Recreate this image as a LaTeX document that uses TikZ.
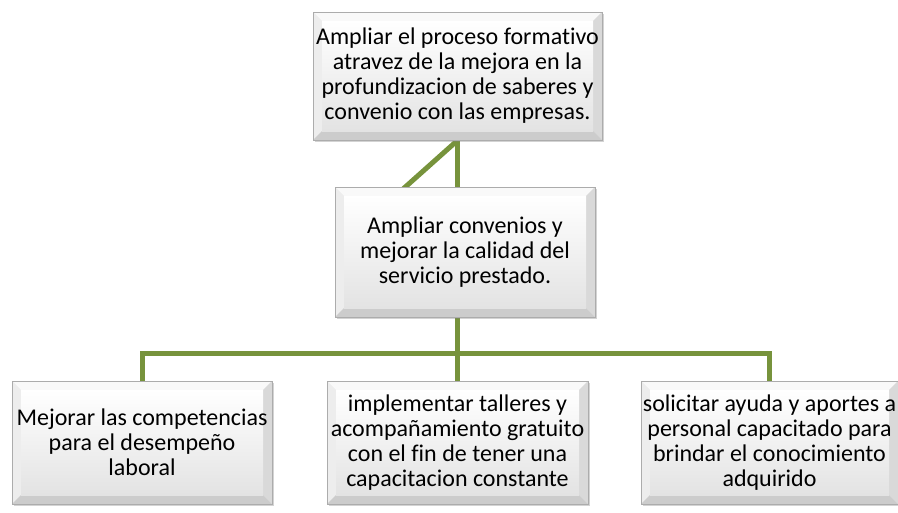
\documentclass[tikz,border=0pt]{standalone}
\usepackage{fontspec}
\setmainfont{Carlito}[Ligatures=NoCommon]
\usetikzlibrary{backgrounds,shadows}
\definecolor{conn}{HTML}{77933C}
\newcommand\bevelpic{%
 \coordinate (bSW) at (path picture bounding box.south west);
 \coordinate (bNE) at (path picture bounding box.north east);
 \coordinate (bNW) at (path picture bounding box.north west);
 \coordinate (bSE) at (path picture bounding box.south east);
 \coordinate (iSW) at ([shift={(9pt,9pt)}]bSW);
 \coordinate (iNE) at ([shift={(-9pt,-9pt)}]bNE);
 \coordinate (iNW) at ([shift={(9pt,-9pt)}]bNW);
 \coordinate (iSE) at ([shift={(-9pt,9pt)}]bSE);
 \fill[gray!5] (bNW) -- (bNE) -- (iNE) -- (iNW) -- cycle;
 \fill[gray!14] (bNW) -- (iNW) -- (iSW) -- (bSW) -- cycle;
 \fill[gray!30] (bNE) -- (bSE) -- (iSE) -- (iNE) -- cycle;
 \fill[gray!40] (bSW) -- (iSW) -- (iSE) -- (bSE) -- cycle;
 \shade[top color=white, bottom color=gray!22] (iSW) rectangle (iNE);
}
\tikzset{
 bevelbox/.style={draw=gray!65, line width=0.8pt, fill=gray!20, inner sep=0pt,
   align=center, font=\fontsize{24pt}{25pt}\selectfont,
   path picture={\bevelpic},
   drop shadow={opacity=0.35, shadow xshift=2pt, shadow yshift=-2pt}},
 link/.style={draw=conn, line width=5pt}
}
\begin{document}
\begin{tikzpicture}[x=1pt,y=-1pt]
\useasboundingbox (0,0) rectangle (898,512);
\node[bevelbox, minimum width=289pt, minimum height=128pt] (top) at (457.5,76)
  {Ampliar el proceso formativo\\atravez de la mejora en la\\profundizacion de saberes y\\convenio con las empresas.};
\node[bevelbox, minimum width=260pt, minimum height=130pt] (mid) at (465,252)
  {Ampliar convenios y\\mejorar la calidad del\\servicio prestado.};
\node[bevelbox, minimum width=260pt, minimum height=123pt] (b1) at (142,442.5)
  {Mejorar las competencias\\para el desempeño\\laboral};
\node[bevelbox, minimum width=261pt, minimum height=123pt] (b2) at (457.5,442.5)
  {implementar talleres y\\acompañamiento gratuito\\con el fin de tener una\\capacitacion constante};
\node[bevelbox, minimum width=257pt, minimum height=123pt] (b3) at (769.5,442.5)
  {solicitar ayuda y aportes a\\personal capacitado para\\brindar el conocimiento\\adquirido};
\coordinate (hid) at (337,248);
\coordinate (jn) at (457.5,353);
\begin{scope}[on background layer]
\draw[link] (top.south) -- (hid);
\draw[link] (top.south) -- (top.south |- mid.north);
\draw[link] (top.south |- mid.south) -- (jn);
\draw[link] (b1.north) -- (b1.north |- jn) -- (b3.north |- jn) -- (b3.north);
\draw[link] (jn) -- (b2.north);
\end{scope}
\end{tikzpicture}
\end{document}
